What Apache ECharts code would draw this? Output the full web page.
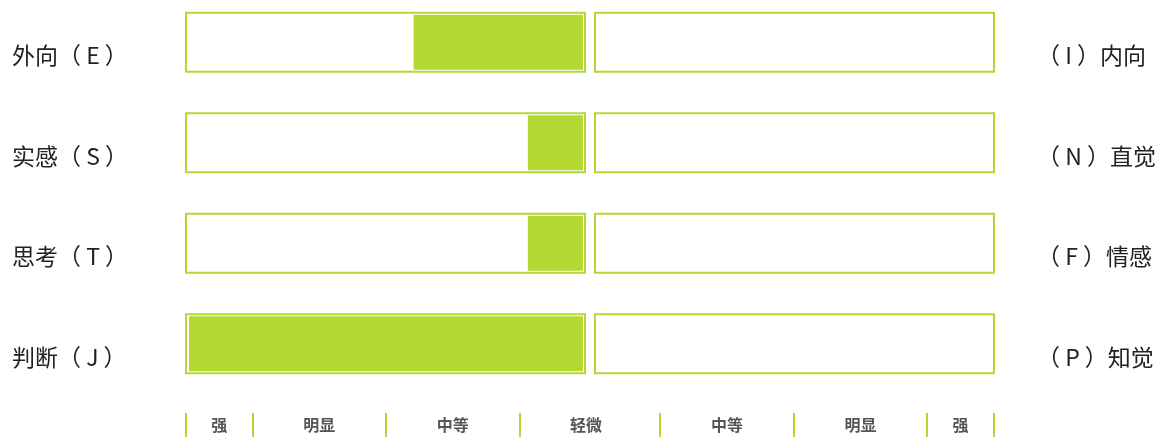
<!DOCTYPE html>
<html>
<head>
<meta charset="utf-8">
</head>
<body style="margin:0;background:#fff;">
<div id="container" style="width:1165px;height:437px;"></div>
<script src="https://cdn.jsdelivr.net/npm/echarts@6/dist/echarts.min.js"></script>
<script>
// 四个维度，左右两端
const leftNames = ['外向（ E ）', '实感（ S ）', '思考（ T ）', '判断（ J ）'];
const rightNames = ['（ I ）内向', '（ N ）直觉', '（ F ）情感', '（ P ）知觉'];
// 倾向程度，满格 100
const leftValues = [43, 14, 14, 100];
const rightValues = [0, 0, 0, 0];
// 底部刻度 (0-30)
const scaleTicks = [5, 15, 25, 30];
const leftScaleValues = [0, 10, 20, 27.5];
const leftScaleNames = ['轻微', '中等', '明显', '强'];
const rightScaleValues = [10, 20, 27.5];
const rightScaleNames = ['中等', '明显', '强'];

const green = '#b3d733';
const font = 'Noto Sans CJK SC';

const dom = document.getElementById('container');
const myChart = echarts.init(dom);

function nameOf(values, names) {
    return function (v) {
        const i = values.findIndex(x => Math.abs(x - v) < 1e-6);
        return i < 0 ? '' : names[i];
    };
}

const boxStyle = {color: '#fff', borderColor: '#b5d736', borderWidth: 2};
const ones = leftValues.map(() => 1);
const scaleLabel = {fontFamily: font, fontSize: 16, fontWeight: 'bold', color: '#555', margin: 4};
const sideLabel = {align: 'left', verticalAlign: 'top', lineHeight: 27, fontFamily: font, fontSize: 23, color: '#222'};

const option = {
    animation: false,
    grid: [
        {left: 185, width: 401, top: -8, height: 402, outerBoundsMode: 'none'},
        {left: 594, width: 401, top: -8, height: 402, outerBoundsMode: 'none'},
        {left: 186, width: 808, top: 380, height: 33, outerBoundsMode: 'none'}
    ],
    xAxis: [
        {gridIndex: 0, type: 'value', min: 0, max: 1, show: false},
        {gridIndex: 0, type: 'value', inverse: true, min: -0.76, max: 101.02, show: false},
        {gridIndex: 1, type: 'value', min: 0, max: 1, show: false},
        {gridIndex: 1, type: 'value', min: -0.9, max: 100.9, show: false},
        {
            gridIndex: 2, type: 'value', inverse: true, min: -30.6, max: 30,
            position: 'bottom',
            axisLine: {show: false},
            splitLine: {show: false},
            axisTick: {show: true, customValues: scaleTicks, length: 25, lineStyle: {color: green, width: 2}},
            axisLabel: Object.assign({
                customValues: leftScaleValues,
                formatter: nameOf(leftScaleValues, leftScaleNames)
            }, scaleLabel)
        },
        {
            gridIndex: 2, type: 'value', min: -30.5, max: 30,
            position: 'bottom',
            axisLine: {show: false},
            splitLine: {show: false},
            axisTick: {show: true, customValues: scaleTicks, length: 25, lineStyle: {color: green, width: 2}},
            axisLabel: Object.assign({
                customValues: rightScaleValues,
                formatter: nameOf(rightScaleValues, rightScaleNames)
            }, scaleLabel)
        }
    ],
    yAxis: [
        {
            gridIndex: 0, type: 'category', inverse: true, data: leftNames,
            position: 'left',
            axisLine: {show: false}, axisTick: {show: false},
            axisLabel: Object.assign({margin: 173}, sideLabel)
        },
        {gridIndex: 0, type: 'category', inverse: true, data: leftNames, show: false},
        {
            gridIndex: 1, type: 'category', inverse: true, data: rightNames,
            position: 'right',
            axisLine: {show: false}, axisTick: {show: false},
            axisLabel: Object.assign({margin: 42}, sideLabel)
        },
        {gridIndex: 1, type: 'category', inverse: true, data: rightNames, show: false},
        {gridIndex: 2, type: 'value', show: false}
    ],
    series: [
        {
            type: 'bar', xAxisIndex: 0, yAxisIndex: 0, data: ones,
            barWidth: 61, itemStyle: boxStyle, silent: true
        },
        {
            type: 'bar', xAxisIndex: 1, yAxisIndex: 1, data: leftValues,
            barWidth: 55, itemStyle: {color: green}, z: 3
        },
        {
            type: 'bar', xAxisIndex: 2, yAxisIndex: 2, data: ones,
            barWidth: 61, itemStyle: boxStyle, silent: true
        },
        {
            type: 'bar', xAxisIndex: 3, yAxisIndex: 3, data: rightValues,
            barWidth: 55, itemStyle: {color: green}, z: 3
        }
    ]
};
myChart.setOption(option);
</script>
</body>
</html>
